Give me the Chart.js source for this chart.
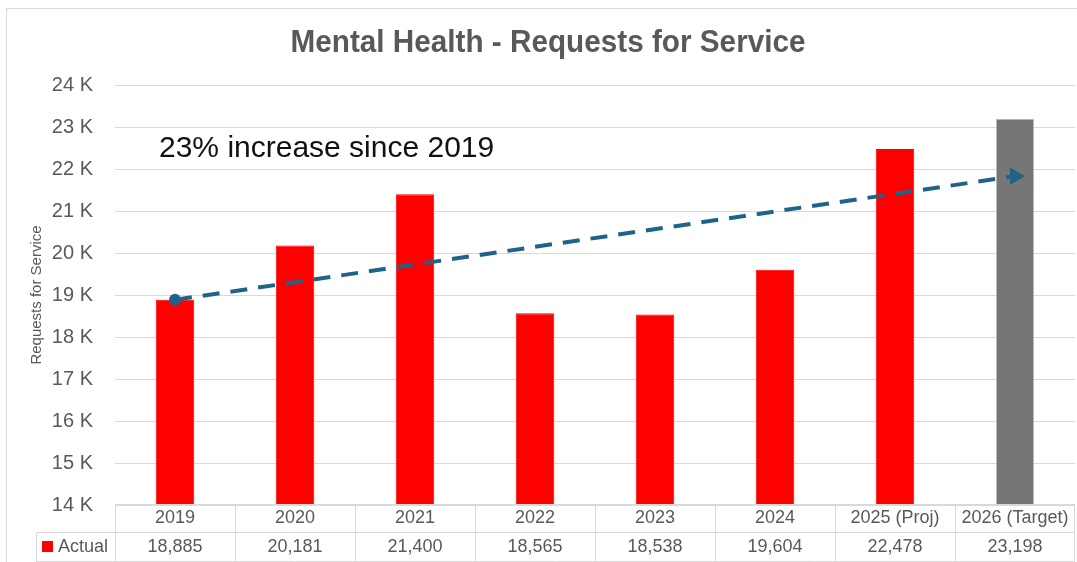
<!DOCTYPE html>
<html>
<head>
<meta charset="utf-8">
<script src="https://cdn.jsdelivr.net/npm/chart.js@4"></script>
<style>
  body { margin: 0; background: #fff; }
  canvas { display: block; }
</style>
</head>
<body>
<canvas id="chart" width="1077" height="562"></canvas>
<script>
const categories = ['2019', '2020', '2021', '2022', '2023', '2024', '2025 (Proj)', '2026 (Target)'];
const actual = [18885, 20181, 21400, 18565, 18538, 19604, 22478, 23198];
const trend = [18885, null, null, null, null, null, null, 21830];
const yTicks = [14000, 24000, 1000];

const barColors = actual.map((v, i) => i === actual.length - 1 ? '#767676' : '#ff0000');
const grey = '#595959';
const font = '"Liberation Sans", Arial, sans-serif';

// border, title, note and data table under the bars
const extras = {
  id: 'extras',
  afterDraw(chart) {
    const ctx = chart.ctx;
    const area = chart.chartArea;
    const x = chart.scales.x;
    const half = (x.getPixelForValue(1) - x.getPixelForValue(0)) / 2;
    ctx.save();

    ctx.strokeStyle = '#d9d9d9';
    ctx.lineWidth = 1;
    ctx.strokeRect(6.5, 8.5, 1200, 700);

    ctx.fillStyle = grey;
    ctx.font = 'bold 31px ' + font;
    ctx.textAlign = 'center';
    ctx.textBaseline = 'alphabetic';
    ctx.fillText('Mental Health - Requests for Service', 548, 52, 515);

    ctx.fillStyle = '#111';
    ctx.font = '30px ' + font;
    ctx.textAlign = 'left';
    ctx.fillText('23% increase since 2019', 159, 157, 342);

    const top = area.bottom - 1;
    const mid = 532;
    const bot = 561;
    ctx.strokeStyle = '#d9d9d9';
    ctx.beginPath();
    ctx.moveTo(area.left, top + 0.5); ctx.lineTo(area.right, top + 0.5);
    ctx.moveTo(36, mid + 0.5); ctx.lineTo(area.right, mid + 0.5);
    ctx.moveTo(36, bot + 0.5); ctx.lineTo(area.right, bot + 0.5);
    ctx.moveTo(36.5, mid); ctx.lineTo(36.5, bot);
    categories.forEach((c, i) => {
      const l = Math.round(x.getPixelForValue(i) - half) + 0.5;
      ctx.moveTo(l, top); ctx.lineTo(l, bot);
    });
    ctx.moveTo(Math.round(area.right) - 0.5, top); ctx.lineTo(Math.round(area.right) - 0.5, bot);
    ctx.stroke();

    ctx.fillStyle = grey;
    ctx.font = '18px ' + font;
    ctx.textAlign = 'center';
    ctx.textBaseline = 'middle';
    categories.forEach((c, i) => {
      const cx = x.getPixelForValue(i);
      ctx.fillText(c, cx, 518);
      ctx.fillText(actual[i].toLocaleString('en-US'), cx, 547);
    });

    ctx.fillStyle = '#ff0000';
    ctx.fillRect(42, 541, 11, 11);
    ctx.fillStyle = grey;
    ctx.textAlign = 'left';
    ctx.fillText('Actual', 58, 547);
    ctx.restore();
  }
};

new Chart(document.getElementById('chart'), {
  data: {
    labels: categories,
    datasets: [
      {
        type: 'line',
        label: 'Trend',
        data: trend,
        spanGaps: true,
        order: 0,
        borderColor: '#1f6488',
        backgroundColor: '#1f6488',
        borderWidth: 4,
        borderDash: [17, 11],
        pointStyle: trend.map((v, i) => i === 0 ? 'circle' : 'triangle'),
        pointRadius: trend.map((v, i) => i === 0 ? 6 : 10),
        pointRotation: 90,
        pointBorderWidth: 0
      },
      {
        type: 'bar',
        label: 'Actual',
        data: actual,
        order: 1,
        backgroundColor: barColors,
        borderColor: actual.map((v, i) => i === actual.length - 1 ? '#bfbfbf' : '#ff0000'),
        borderWidth: 1,
        categoryPercentage: 1,
        barPercentage: 0.32
      }
    ]
  },
  options: {
    responsive: false,
    animation: false,
    layout: { autoPadding: false, padding: { top: 85, bottom: 57, left: 0, right: 2 } },
    plugins: {
      legend: { display: false },
      tooltip: { enabled: false }
    },
    scales: {
      x: { display: false },
      y: {
        min: yTicks[0],
        max: yTicks[1],
        afterFit(scale) { scale.width = 115; },
        ticks: {
          stepSize: yTicks[2],
          padding: 22,
          color: grey,
          font: { family: font, size: 20 },
          callback: v => (v / 1000) + ' K'
        },
        grid: { color: '#d9d9d9', drawTicks: false },
        border: { display: false },
        title: {
          display: true,
          text: 'Requests for Service',
          color: grey,
          font: { family: font, size: 15 },
          padding: { top: 28, bottom: 0 }
        }
      }
    }
  },
  plugins: [extras]
});
</script>
</body>
</html>
